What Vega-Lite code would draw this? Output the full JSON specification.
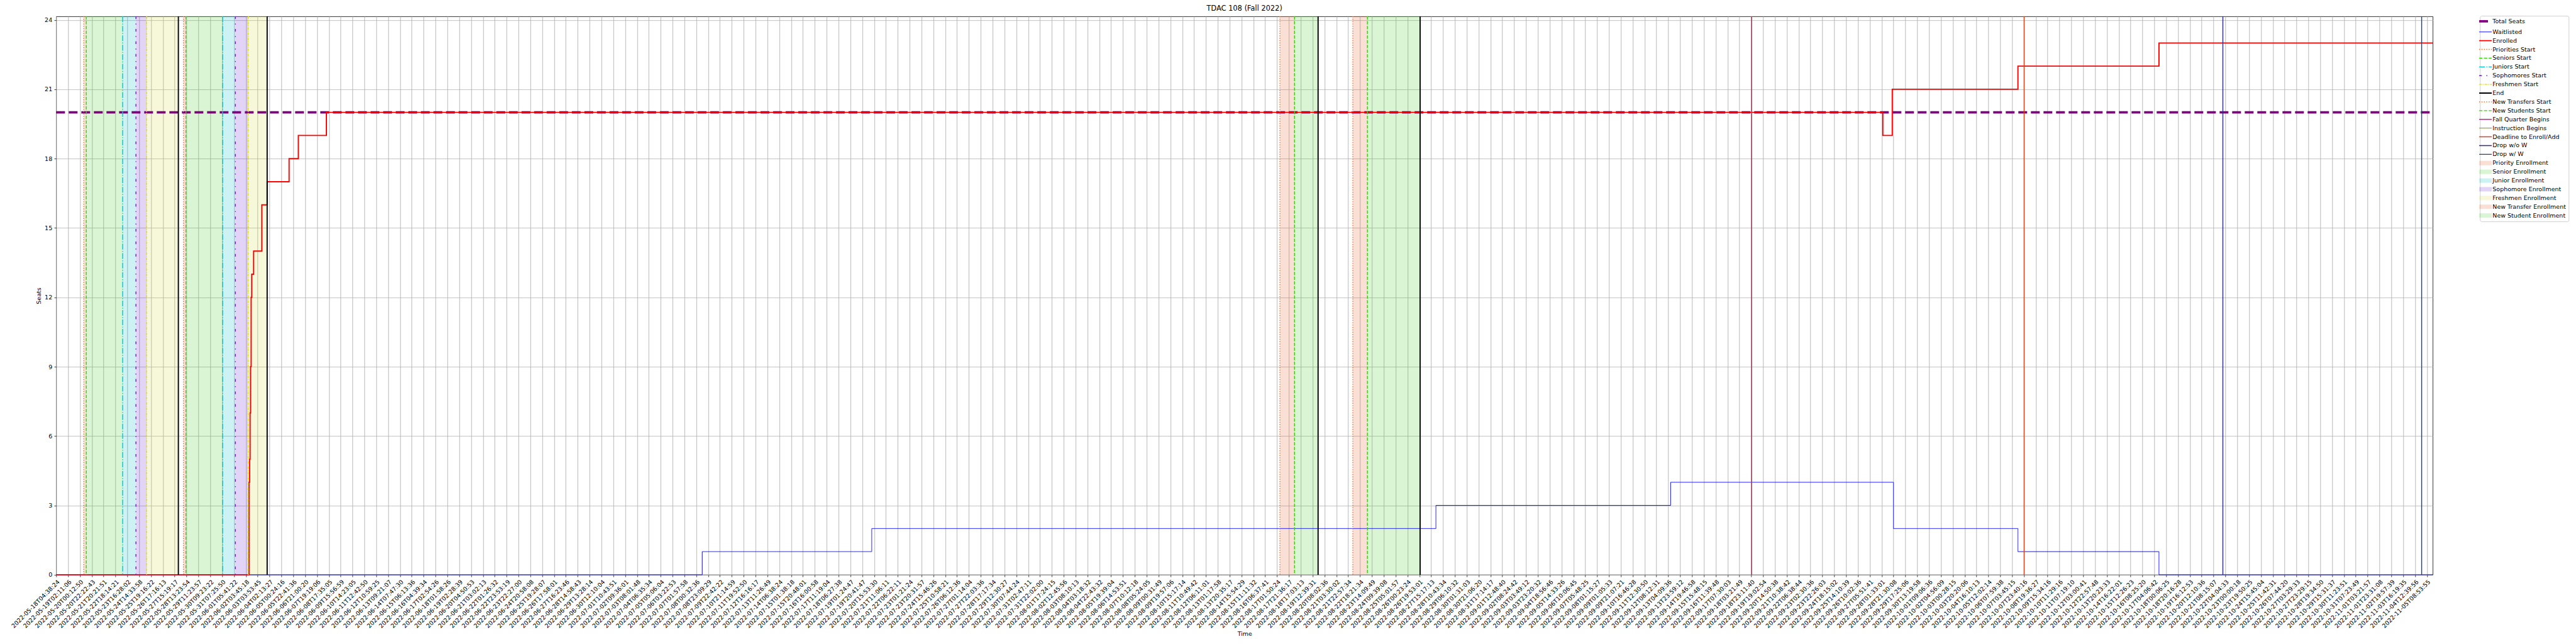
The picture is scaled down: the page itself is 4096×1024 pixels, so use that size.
{
  "$schema": "https://vega.github.io/schema/vega-lite/v6.json",
  "width": 3779,
  "height": 887.8,
  "autosize": {"type": "none"},
  "padding": {"left": 89.3, "top": 26.1, "right": 227.7, "bottom": 110.1},
  "title": {"text": "TDAC 108 (Fall 2022)", "fontSize": 11.4, "font": "DejaVu Sans", "fontWeight": "normal", "color": "#000", "offset": 5.7, "anchor": "middle"},
  "config": {
    "view": {"stroke": "#000", "strokeWidth": 0.8},
    "font": "DejaVu Sans",
    "axis": {"labelFont": "DejaVu Sans", "titleFont": "DejaVu Sans", "labelColor": "#000", "titleColor": "#000", "tickColor": "#000", "domain": false, "gridColor": "#b0b0b0", "gridWidth": 0.75, "tickWidth": 0.75, "tickSize": 3.3, "labelFontSize": 9.5, "titleFontSize": 9.5, "titleFontWeight": "normal"}
  },
  "datasets": {
    "regions": [
      {"name": "Priority Enrollment", "idx": 2.33, "idx2": 2.54},
      {"name": "Priority Enrollment", "idx": 10.74, "idx2": 10.95},
      {"name": "Senior Enrollment", "idx": 2.54, "idx2": 5.61},
      {"name": "Senior Enrollment", "idx": 10.95, "idx2": 14.04},
      {"name": "Junior Enrollment", "idx": 5.61, "idx2": 6.73},
      {"name": "Junior Enrollment", "idx": 14.04, "idx2": 15.12},
      {"name": "Sophomore Enrollment", "idx": 6.73, "idx2": 7.63},
      {"name": "Sophomore Enrollment", "idx": 15.12, "idx2": 16.2},
      {"name": "Freshmen Enrollment", "idx": 7.63, "idx2": 10.31},
      {"name": "Freshmen Enrollment", "idx": 16.2, "idx2": 17.8},
      {"name": "New Transfer Enrollment", "idx": 103.24, "idx2": 104.47},
      {"name": "New Transfer Enrollment", "idx": 109.39, "idx2": 110.62},
      {"name": "New Student Enrollment", "idx": 104.47, "idx2": 106.46},
      {"name": "New Student Enrollment", "idx": 110.62, "idx2": 115.07}
    ],
    "events": [
      {"name": "Priorities Start", "idx": 2.33},
      {"name": "Priorities Start", "idx": 10.74},
      {"name": "Seniors Start", "idx": 2.54},
      {"name": "Seniors Start", "idx": 10.95},
      {"name": "Juniors Start", "idx": 5.61},
      {"name": "Juniors Start", "idx": 14.04},
      {"name": "Sophomores Start", "idx": 6.73},
      {"name": "Sophomores Start", "idx": 15.12},
      {"name": "Freshmen Start", "idx": 7.63},
      {"name": "Freshmen Start", "idx": 16.2},
      {"name": "End", "idx": 10.31},
      {"name": "End", "idx": 17.8},
      {"name": "End", "idx": 106.46},
      {"name": "End", "idx": 115.07},
      {"name": "New Transfers Start", "idx": 103.24},
      {"name": "New Transfers Start", "idx": 109.39},
      {"name": "New Students Start", "idx": 104.47},
      {"name": "New Students Start", "idx": 110.62},
      {"name": "Instruction Begins", "idx": 143.04},
      {"name": "Fall Quarter Begins", "idx": 143.04},
      {"name": "Deadline to Enroll/Add", "idx": 166.02},
      {"name": "Drop w/o W", "idx": 182.79},
      {"name": "Drop w/ W", "idx": 199.56}
    ],
    "series": [
      {"name": "Total Seats", "idx": 0, "value": 20},
      {"name": "Total Seats", "idx": 200.5, "value": 20},
      {"name": "Waitlisted", "idx": 0, "value": 0},
      {"name": "Waitlisted", "idx": 54.5, "value": 1},
      {"name": "Waitlisted", "idx": 68.8, "value": 2},
      {"name": "Waitlisted", "idx": 116.4, "value": 3},
      {"name": "Waitlisted", "idx": 136.2, "value": 4},
      {"name": "Waitlisted", "idx": 155.0, "value": 2},
      {"name": "Waitlisted", "idx": 165.5, "value": 1},
      {"name": "Waitlisted", "idx": 177.4, "value": 0},
      {"name": "Waitlisted", "idx": 200.5, "value": 0},
      {"name": "Enrolled", "idx": 0, "value": 0},
      {"name": "Enrolled", "idx": 16.27, "value": 4},
      {"name": "Enrolled", "idx": 16.32, "value": 5},
      {"name": "Enrolled", "idx": 16.36, "value": 7},
      {"name": "Enrolled", "idx": 16.4, "value": 9},
      {"name": "Enrolled", "idx": 16.45, "value": 12},
      {"name": "Enrolled", "idx": 16.5, "value": 13},
      {"name": "Enrolled", "idx": 16.66, "value": 14},
      {"name": "Enrolled", "idx": 17.35, "value": 16},
      {"name": "Enrolled", "idx": 17.8, "value": 17},
      {"name": "Enrolled", "idx": 19.65, "value": 18},
      {"name": "Enrolled", "idx": 20.43, "value": 19},
      {"name": "Enrolled", "idx": 22.8, "value": 20},
      {"name": "Enrolled", "idx": 154.1, "value": 19},
      {"name": "Enrolled", "idx": 154.9, "value": 21},
      {"name": "Enrolled", "idx": 165.5, "value": 22},
      {"name": "Enrolled", "idx": 177.4, "value": 23},
      {"name": "Enrolled", "idx": 200.5, "value": 23}
    ]
  },
  "encoding": {
    "x": {
      "field": "idx", "type": "quantitative",
      "scale": {"domain": [0, 200.5], "nice": false, "zero": false},
      "axis": {
        "title": "Time", "titlePadding": 3,
        "values": [0,1,2,3,4,5,6,7,8,9,10,11,12,13,14,15,16,17,18,19,20,21,22,23,24,25,26,27,28,29,30,31,32,33,34,35,36,37,38,39,40,41,42,43,44,45,46,47,48,49,50,51,52,53,54,55,56,57,58,59,60,61,62,63,64,65,66,67,68,69,70,71,72,73,74,75,76,77,78,79,80,81,82,83,84,85,86,87,88,89,90,91,92,93,94,95,96,97,98,99,100,101,102,103,104,105,106,107,108,109,110,111,112,113,114,115,116,117,118,119,120,121,122,123,124,125,126,127,128,129,130,131,132,133,134,135,136,137,138,139,140,141,142,143,144,145,146,147,148,149,150,151,152,153,154,155,156,157,158,159,160,161,162,163,164,165,166,167,168,169,170,171,172,173,174,175,176,177,178,179,180,181,182,183,184,185,186,187,188,189,190,191,192,193,194,195,196,197,198,199,200],
        "labelExpr": "['2022-05-18T04:38:24','2022-05-19T02:11:06','2022-05-20T00:12:50','2022-05-20T22:22:43','2022-05-21T20:21:51','2022-05-22T18:14:21','2022-05-23T16:28:02','2022-05-24T14:33:58','2022-05-25T19:16:22','2022-05-26T17:16:13','2022-05-27T15:19:17','2022-05-28T13:23:54','2022-05-29T11:23:57','2022-05-30T09:23:22','2022-05-31T07:25:50','2022-06-01T05:41:22','2022-06-02T03:45:18','2022-06-03T03:53:45','2022-06-04T02:13:27','2022-06-05T00:24:16','2022-06-05T22:41:36','2022-06-06T21:00:20','2022-06-07T19:19:06','2022-06-08T17:35:05','2022-06-09T15:56:59','2022-06-10T14:23:05','2022-06-11T12:42:50','2022-06-12T10:59:25','2022-06-13T09:21:07','2022-06-14T07:47:30','2022-06-15T06:13:36','2022-06-16T04:39:34','2022-06-17T02:54:26','2022-06-18T01:58:26','2022-06-19T02:28:39','2022-06-20T04:50:53','2022-06-21T03:02:13','2022-06-22T01:26:32','2022-06-22T23:53:19','2022-06-23T22:27:00','2022-06-24T20:58:08','2022-06-25T19:28:07','2022-06-26T17:58:01','2022-06-27T16:23:46','2022-06-28T14:58:43','2022-06-29T13:28:14','2022-06-30T12:10:04','2022-07-01T10:43:51','2022-07-02T09:36:01','2022-07-03T08:01:48','2022-07-04T06:35:34','2022-07-05T05:06:04','2022-07-06T03:22:53','2022-07-07T01:57:58','2022-07-08T00:32:36','2022-07-08T23:09:29','2022-07-09T22:42:22','2022-07-10T21:14:59','2022-07-11T19:52:50','2022-07-12T16:16:17','2022-07-13T11:26:49','2022-07-14T06:38:24','2022-07-15T01:38:18','2022-07-15T20:48:01','2022-07-16T16:00:58','2022-07-17T11:19:04','2022-07-18T06:27:38','2022-07-19T01:24:47','2022-07-19T20:41:47','2022-07-20T15:53:30','2022-07-21T11:06:11','2022-07-22T06:22:11','2022-07-23T01:21:24','2022-07-23T20:31:57','2022-07-24T15:46:26','2022-07-25T10:58:21','2022-07-26T06:12:36','2022-07-27T01:14:04','2022-07-27T22:03:36','2022-07-28T17:17:34','2022-07-29T12:30:27','2022-07-30T07:44:24','2022-07-31T02:47:11','2022-07-31T22:02:00','2022-08-01T17:24:15','2022-08-02T12:45:56','2022-08-03T08:10:13','2022-08-04T03:18:32','2022-08-04T22:43:32','2022-08-05T19:39:04','2022-08-06T14:53:51','2022-08-07T10:12:18','2022-08-08T05:24:05','2022-08-09T00:31:49','2022-08-09T19:57:06','2022-08-10T15:17:14','2022-08-11T10:49:42','2022-08-12T06:11:01','2022-08-13T01:17:58','2022-08-13T20:35:17','2022-08-14T15:54:29','2022-08-15T11:11:32','2022-08-16T06:37:41','2022-08-17T01:50:24','2022-08-17T21:36:17','2022-08-18T17:03:13','2022-08-19T12:39:31','2022-08-20T08:02:36','2022-08-21T03:30:02','2022-08-21T22:57:34','2022-08-22T18:21:34','2022-08-23T14:09:49','2022-08-24T09:39:08','2022-08-25T05:01:57','2022-08-26T00:23:24','2022-08-26T19:53:01','2022-08-27T15:17:13','2022-08-28T10:43:34','2022-08-29T06:10:32','2022-08-30T01:31:03','2022-08-30T21:06:20','2022-08-31T17:14:17','2022-09-01T12:48:40','2022-09-02T08:24:42','2022-09-03T03:49:12','2022-09-03T23:20:32','2022-09-04T18:56:46','2022-09-05T14:33:26','2022-09-06T10:06:45','2022-09-07T05:48:25','2022-09-08T01:15:27','2022-09-09T01:05:33','2022-09-09T21:07:21','2022-09-10T16:46:28','2022-09-11T12:30:50','2022-09-12T08:12:31','2022-09-13T04:09:36','2022-09-13T23:59:12','2022-09-14T19:46:58','2022-09-15T15:48:15','2022-09-16T11:39:48','2022-09-17T07:30:03','2022-09-18T03:21:49','2022-09-18T23:11:40','2022-09-19T19:02:54','2022-09-20T14:50:38','2022-09-21T10:38:42','2022-09-22T06:38:44','2022-09-23T02:30:36','2022-09-23T22:26:03','2022-09-24T18:15:02','2022-09-25T14:10:39','2022-09-26T10:02:36','2022-09-27T05:51:41','2022-09-28T01:33:01','2022-09-28T21:30:08','2022-09-29T17:25:06','2022-09-30T13:19:58','2022-10-01T09:06:36','2022-10-02T04:56:09','2022-10-03T00:28:15','2022-10-03T20:20:06','2022-10-04T16:10:13','2022-10-05T12:02:14','2022-10-06T07:59:38','2022-10-07T03:45:15','2022-10-07T23:40:16','2022-10-08T19:36:27','2022-10-09T15:34:16','2022-10-10T11:29:16','2022-10-11T07:19:10','2022-10-12T03:00:41','2022-10-12T22:57:48','2022-10-13T20:23:33','2022-10-14T16:22:01','2022-10-15T12:26:23','2022-10-16T08:25:20','2022-10-17T04:06:42','2022-10-18T00:06:25','2022-10-18T20:16:28','2022-10-19T16:12:53','2022-10-20T12:10:36','2022-10-21T08:15:07','2022-10-22T04:04:33','2022-10-23T00:00:18','2022-10-23T19:50:25','2022-10-24T15:45:04','2022-10-25T11:42:31','2022-10-26T07:44:20','2022-10-27T03:29:33','2022-10-27T23:29:15','2022-10-28T19:34:50','2022-10-29T15:31:37','2022-10-30T11:23:51','2022-10-31T07:23:49','2022-11-01T03:21:57','2022-11-01T23:31:08','2022-11-02T19:57:39','2022-11-03T16:19:35','2022-11-04T12:39:56','2022-11-05T08:53:55'][datum.value]",
        "labelAngle": -45, "labelAlign": "right", "labelBaseline": "top", "labelPadding": 2.5,
        "labelOverlap": false, "labelBound": false, "labelFlush": false, "labelLimit": 0,
        "grid": true, "gridWidth": 0.9
      }
    },
    "color": {
      "field": "name", "type": "nominal",
      "scale": {
        "domain": ["Total Seats","Waitlisted","Enrolled","Priorities Start","Seniors Start","Juniors Start","Sophomores Start","Freshmen Start","End","New Transfers Start","New Students Start","Fall Quarter Begins","Instruction Begins","Deadline to Enroll/Add","Drop w/o W","Drop w/ W","Priority Enrollment","Senior Enrollment","Junior Enrollment","Sophomore Enrollment","Freshmen Enrollment","New Transfer Enrollment","New Student Enrollment"],
        "range": ["#800080","#0000ff","#ff0000","#f26d2c","#3ccf14","#00c8d2","#6a1fd6","#dcdc28","#000000","#f26d2c","#3ccf14","#e0129c","#8db31c","#d9441c","#2c2a8c","#2f3d5c","#e0602a","#44cc22","#00bcc8","#6a2ad0","#d8d846","#e0602a","#44cc22"]
      },
      "legend": {
        "title": null, "orient": "none", "legendX": 3854, "legendY": -1,
        "symbolType": "stroke", "symbolSize": 400, "symbolStrokeWidth": 1.4,
        "labelFont": "DejaVu Sans", "labelFontSize": 9.5, "labelColor": "#000", "labelOffset": 6.5, "labelLimit": 0,
        "rowPadding": 2.9, "padding": 4, "strokeColor": "#d0d0d0", "fillColor": "rgba(255,255,255,0.8)", "cornerRadius": 2.5,
        "encode": {"symbols": {"update": {
          "shape": {"signal": "indexof(datum.value, 'Enrollment') >= 0 ? 'M-1,-0.35H1V0.35H-1Z' : 'stroke'"},
          "fill": {"signal": "indexof(datum.value, 'Enrollment') >= 0 ? scale('color', datum.value) : 'transparent'"},
          "fillOpacity": {"signal": "indexof(datum.value, 'Enrollment') >= 0 ? 0.2 : 0"},
          "stroke": {"signal": "indexof(datum.value, 'Enrollment') >= 0 ? 'transparent' : scale('color', datum.value)"},
          "strokeOpacity": {"signal": "indexof(datum.value, 'Enrollment') >= 0 ? 0 : 1"},
          "strokeWidth": {"signal": "datum.value == 'Total Seats' ? 3.8 : datum.value == 'Enrolled' ? 1.9 : datum.value == 'Waitlisted' ? 0.95 : datum.value == 'End' ? 1.9 : 1.42"},
          "opacity": {"value": 1}
        }}}
      }
    },
    "strokeDash": {
      "field": "name", "type": "nominal",
      "scale": {
        "domain": ["Total Seats","Waitlisted","Enrolled","Priorities Start","Seniors Start","Juniors Start","Sophomores Start","Freshmen Start","End","New Transfers Start","New Students Start","Fall Quarter Begins","Instruction Begins","Deadline to Enroll/Add","Drop w/o W","Drop w/ W","Priority Enrollment","Senior Enrollment","Junior Enrollment","Sophomore Enrollment","Freshmen Enrollment","New Transfer Enrollment","New Student Enrollment"],
        "range": [[14,6],[1,0],[1,0],[1.42,2.35],[5.25,2.27],[9.1,2.27,1.42,2.27],[4.26,7.1,1.42,7.1],[4.26,1.42,1.42,1.42],[1,0],[1.42,2.35],[5.25,2.27],[1,0],[1,0],[1,0],[1,0],[1,0],[1,0],[1,0],[1,0],[1,0],[1,0],[1,0],[1,0]]
      },
      "legend": {
        "title": null, "orient": "none", "legendX": 3854, "legendY": -1,
        "symbolType": "stroke", "symbolSize": 400, "symbolStrokeWidth": 1.4,
        "labelFont": "DejaVu Sans", "labelFontSize": 9.5, "labelColor": "#000", "labelOffset": 6.5, "labelLimit": 0,
        "rowPadding": 2.9, "padding": 4, "strokeColor": "#d0d0d0", "fillColor": "rgba(255,255,255,0.8)", "cornerRadius": 2.5
      }
    }
  },
  "layer": [
    {
      "data": {"name": "regions"},
      "mark": {"type": "rect", "fillOpacity": 0.2, "strokeWidth": 0},
      "encoding": {"x2": {"field": "idx2"}}
    },
    {
      "data": {"name": "series"},
      "transform": [{"filter": "datum.name == 'Total Seats'"}],
      "mark": {"type": "line", "strokeWidth": 3.8, "interpolate": "linear"},
      "encoding": {"y": {"field": "value", "type": "quantitative", "scale": {"domain": [0, 24.15], "nice": false, "zero": false}, "axis": {"title": "Seats", "values": [0,3,6,9,12,15,18,21,24], "labelPadding": 3.3, "titlePadding": 4, "grid": true}}}
    },
    {
      "data": {"name": "series"},
      "transform": [{"filter": "datum.name == 'Waitlisted'"}],
      "mark": {"type": "line", "strokeWidth": 0.95, "interpolate": "step-after"},
      "encoding": {"y": {"field": "value", "type": "quantitative"}}
    },
    {
      "data": {"name": "series"},
      "transform": [{"filter": "datum.name == 'Enrolled'"}],
      "mark": {"type": "line", "strokeWidth": 1.9, "interpolate": "step-after"},
      "encoding": {"y": {"field": "value", "type": "quantitative"}}
    },
    {
      "data": {"name": "events"},
      "transform": [{"filter": "datum.name != 'End'"}],
      "mark": {"type": "rule", "strokeWidth": 1.42},
      "encoding": {}
    },
    {
      "data": {"name": "events"},
      "transform": [{"filter": "datum.name == 'End'"}],
      "mark": {"type": "rule", "strokeWidth": 1.9},
      "encoding": {}
    }
  ]
}
